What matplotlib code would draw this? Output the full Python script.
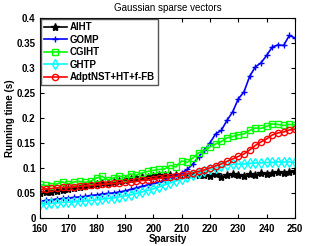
import numpy as np
import matplotlib.pyplot as plt

plt.rcParams['font.family'] = ['Liberation Sans', 'DejaVu Sans']

# sparsity levels
sparsity = np.arange(160, 251, 2)

aiht = [0.050, 0.051, 0.052, 0.054, 0.056, 0.057, 0.059, 0.061, 0.063, 0.065,
        0.067, 0.069, 0.070, 0.072, 0.073, 0.075, 0.077, 0.079, 0.081, 0.082,
        0.084, 0.085, 0.086, 0.086, 0.086, 0.085, 0.086, 0.087, 0.085, 0.086,
        0.084, 0.088, 0.082, 0.085, 0.087, 0.085, 0.084, 0.088, 0.086, 0.089,
        0.088, 0.090, 0.092, 0.090, 0.092, 0.094]
gomp = [0.033, 0.035, 0.036, 0.038, 0.039, 0.040, 0.041, 0.042, 0.043, 0.045,
        0.046, 0.048, 0.049, 0.050, 0.052, 0.054, 0.057, 0.060, 0.063, 0.066,
        0.069, 0.071, 0.075, 0.079, 0.084, 0.090, 0.097, 0.108, 0.122, 0.135,
        0.150, 0.168, 0.175, 0.195, 0.212, 0.238, 0.252, 0.283, 0.302, 0.310,
        0.325, 0.342, 0.346, 0.345, 0.365, 0.360]
cgiht = [0.067, 0.065, 0.064, 0.068, 0.072, 0.068, 0.072, 0.073, 0.071, 0.074,
         0.080, 0.083, 0.076, 0.080, 0.084, 0.080, 0.088, 0.086, 0.090, 0.093,
         0.095, 0.097, 0.098, 0.105, 0.102, 0.114, 0.111, 0.120, 0.130, 0.135,
         0.142, 0.148, 0.153, 0.160, 0.163, 0.166, 0.168, 0.175, 0.180, 0.179,
         0.183, 0.188, 0.187, 0.185, 0.187, 0.186]
ghtp = [0.028, 0.028, 0.029, 0.030, 0.031, 0.032, 0.032, 0.033, 0.034, 0.035,
        0.036, 0.038, 0.039, 0.040, 0.042, 0.044, 0.046, 0.049, 0.052, 0.055,
        0.058, 0.062, 0.066, 0.070, 0.074, 0.078, 0.081, 0.085, 0.089, 0.093,
        0.097, 0.100, 0.103, 0.105, 0.107, 0.108, 0.108, 0.109, 0.110, 0.110,
        0.111, 0.111, 0.112, 0.112, 0.112, 0.111]
adpt = [0.057, 0.058, 0.059, 0.060, 0.061, 0.061, 0.062, 0.063, 0.064, 0.065,
        0.066, 0.067, 0.068, 0.069, 0.070, 0.071, 0.072, 0.073, 0.075, 0.076,
        0.078, 0.079, 0.081, 0.082, 0.083, 0.085, 0.088, 0.090, 0.093, 0.096,
        0.100, 0.104, 0.108, 0.113, 0.118, 0.123, 0.128, 0.136, 0.145, 0.152,
        0.158, 0.166, 0.170, 0.172, 0.176, 0.177]

fig = plt.figure(figsize=(3.27, 2.46), dpi=100)
ax = fig.add_axes([0.122, 0.114, 0.780, 0.813])

ax.plot(sparsity, aiht, 'k-*', lw=1.2, ms=6, label='AIHT')
ax.plot(sparsity, gomp, '-+', color='#0000ff', lw=1.2, ms=4.5, label='GOMP')
ax.plot(sparsity, cgiht, '-s', color='#00ff00', lw=1.2, ms=4.5, mfc='none', label='CGIHT')
ax.plot(sparsity, ghtp, '-d', color='#00ffff', lw=1.2, ms=5, mfc='none', label='GHTP')
ax.plot(sparsity, adpt, '-o', color='#ff0000', lw=1.2, ms=4.5, mfc='none', label='AdptNST+HT+f-FB')

ax.set_xlim(160, 250)
ax.set_ylim(0, 0.4)
ax.set_xticks(np.arange(160, 251, 10))
ax.set_yticks(np.arange(0, 0.41, 0.05))
ax.set_yticklabels(['0', '0.05', '0.1', '0.15', '0.2', '0.25', '0.3', '0.35', '0.4'])
ax.tick_params(direction='in', top=True, right=True, length=3, labelsize=7)
ax.tick_params(axis='x', pad=4)
ax.tick_params(axis='y', pad=3)
for lab in ax.get_xticklabels() + ax.get_yticklabels():
    lab.set_fontweight('bold')

ax.set_xlabel('Sparsity', fontsize=7, fontweight='bold', labelpad=0)
ax.set_ylabel('Running time (s)', fontsize=7, fontweight='bold', labelpad=1)
ax.set_title('Gaussian sparse vectors', fontsize=7, pad=5)

leg = ax.legend(loc='upper left', prop={'weight': 'bold', 'size': 7},
                fancybox=False, edgecolor='#555555', framealpha=1,
                borderaxespad=0.15, handlelength=2.3, labelspacing=0.25,
                borderpad=0.3, handletextpad=0.3)
leg.get_frame().set_linewidth(1.0)

fig.savefig('out.png', dpi=100)
